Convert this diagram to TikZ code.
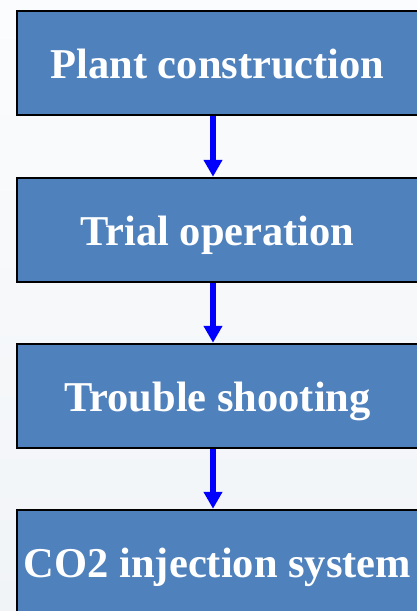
\documentclass[tikz,border=0pt]{standalone}
\usepackage{fontspec}
\setmainfont{Liberation Serif}
\usetikzlibrary{arrows.meta}
\definecolor{boxfill}{HTML}{4F81BD}
\definecolor{bgtop}{HTML}{FBFCFD}
\definecolor{bgbot}{HTML}{F1F4F7}
\tikzset{
  stepbox/.style={draw=black, line width=2.5pt, fill=boxfill, text=white,
    minimum width=401pt, minimum height=104pt, inner sep=0pt,
    text height=31pt, text depth=0pt,
    font=\fontsize{42.5}{50}\selectfont\bfseries},
  flowarrow/.style={draw=blue, line width=6pt, -{Triangle[width=18pt,length=17pt]}}
}
\begin{document}
\begin{tikzpicture}[x=1pt,y=-1pt]
\useasboundingbox (0,0) rectangle (417,611);
\shade[top color=bgtop, bottom color=bgbot] (0,0) rectangle (417,611);
\node[stepbox] (b1) at (217.5,63) {Plant construction};
\node[stepbox] (b2) at (217.5,230) {Trial operation};
\node[stepbox] (b3) at (217.5,396) {Trouble shooting};
\node[stepbox] (b4) at (217.5,562) {CO2 injection system};
\draw[flowarrow] ([xshift=-4.5pt]b1.south) -- ([xshift=-4.5pt]b2.north);
\draw[flowarrow] ([xshift=-4.5pt]b2.south) -- ([xshift=-4.5pt]b3.north);
\draw[flowarrow] ([xshift=-4.5pt]b3.south) -- ([xshift=-4.5pt]b4.north);
\end{tikzpicture}
\end{document}
